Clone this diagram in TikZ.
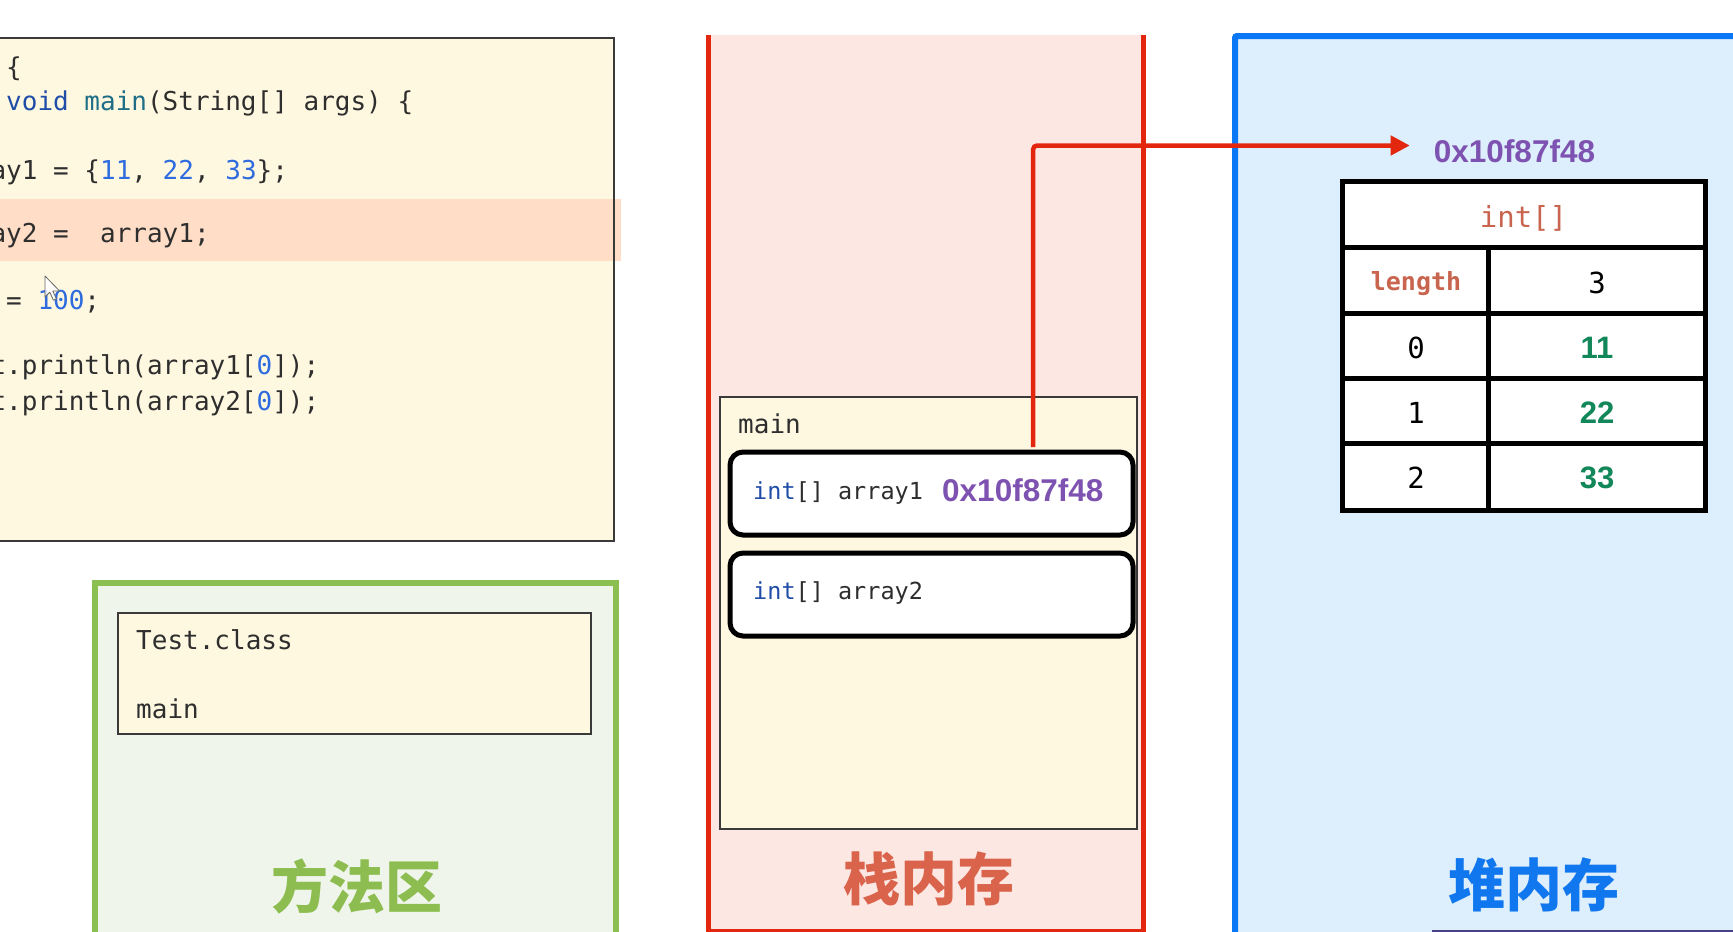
\documentclass[tikz,border=0pt]{standalone}
\usepackage{fontspec}
\usetikzlibrary{arrows.meta,calc}
\newfontfamily\monof{DejaVu Sans Mono}
\newfontfamily\addrf{Liberation Sans}
\newfontfamily\cjkf{Noto Sans CJK SC}
\definecolor{codebg}{HTML}{FFF8E1}
\definecolor{hlband}{HTML}{FFDDC6}
\definecolor{codegray}{HTML}{2E2E2E}
\definecolor{kwblue}{HTML}{1F4DA8}
\definecolor{kwteal}{HTML}{1D6E86}
\definecolor{numblue}{HTML}{2E6BDE}
\definecolor{stackbg}{HTML}{FDE7E3}
\definecolor{stackred}{HTML}{E3260E}
\definecolor{stacktitle}{HTML}{D9634B}
\definecolor{heapbg}{HTML}{DDEEFC}
\definecolor{heapblue}{HTML}{0A78F6}
\definecolor{heaptitle}{HTML}{1177EE}
\definecolor{methbg}{HTML}{EFF5EA}
\definecolor{methgreen}{HTML}{8CBF52}
\definecolor{methtitle}{HTML}{8DBD50}
\definecolor{addrpurple}{HTML}{7E52B0}
\definecolor{typered}{HTML}{C9654F}
\definecolor{valgreen}{HTML}{12875A}
\definecolor{framegray}{HTML}{3A3A3A}
\definecolor{darkline}{HTML}{4A3F8C}
\tikzset{
  codetxt/.style={anchor=mid west, inner sep=0pt, text=codegray, font=\monof\fontsize{26}{30}\selectfont},
  vartxt/.style={anchor=mid west, inner sep=0pt, text=codegray, font=\monof\fontsize{23.5}{28}\selectfont},
  addrtxt/.style={inner sep=0pt, text=addrpurple, font=\addrf\bfseries\fontsize{31.5}{36}\selectfont},
  titletxt/.style={inner sep=0pt, font=\cjkf\bfseries\fontsize{57}{62}\selectfont},
  varbox/.style={draw=black, line width=5pt, rounded corners=13pt, fill=white, minimum width=403pt, minimum height=83pt, inner sep=0pt},
  plainbox/.style={draw=framegray, line width=2pt, fill=codebg, inner sep=0pt},
  celltxt/.style={inner sep=0pt, text=black, font=\monof\fontsize{29}{33}\selectfont},
  valtxt/.style={inner sep=0pt, text=valgreen, font=\addrf\bfseries\fontsize{31}{36}\selectfont},
  redarrow/.style={draw=stackred, line width=4.5pt, rounded corners=4pt, -{Triangle[length=19pt,width=19pt]}},
}
\begin{document}
\begin{tikzpicture}[x=1pt,y=-1pt]
\useasboundingbox (0,0) rectangle (1733,932);
\fill[white] (0,0) rectangle (1733,932);

% ---------- code panel ----------
\fill[codebg] (-10,38) rectangle (614,541);
\fill[hlband] (0,199) rectangle (621,261);
\draw[line width=2.5pt, draw=framegray] (-10,38) rectangle (614,541);
\node[codetxt] (c1) at (6,74) {\{};
\node[codetxt] (c2) at (6,108.5) {\textcolor{kwblue}{void} \textcolor{kwteal}{main}(String[] args) \{};
\node[codetxt] (c3) at (-9.65,177) {ay1 = \{\textcolor{numblue}{11}, \textcolor{numblue}{22}, \textcolor{numblue}{33}\};};
\node[codetxt] (c4) at (-9.65,240) {ay2 =\ \ array1;};
\node[codetxt] (c5) at (6,307.5) {= \textcolor{numblue}{100};};
\node[codetxt] (c6) at (-9.65,372.7) {t.println(array1[\textcolor{numblue}{0}]);};
\node[codetxt] (c7) at (-9.65,408) {t.println(array2[\textcolor{numblue}{0}]);};
% mouse cursor
\draw[fill=white, fill opacity=0.85, draw=gray!80!black, line width=0.8pt, line join=round]
  (45,276) -- ++(0,21) -- ++(4.8,-4.8) -- ++(3.6,8) -- ++(3,-1.3) -- ++(-3.6,-7.9) -- ++(6.8,0) -- cycle;

% ---------- method area ----------
\draw[line width=5.5pt, draw=methgreen, fill=methbg] (95,583) rectangle (616,948);
\node[plainbox, minimum width=473.5pt, minimum height=121pt] (cls) at (354.25,673.5) {};
\node[codetxt] (clsname) at (136,647) {Test.class};
\node[codetxt] (clsmain) at (136,716) {main};
\node[titletxt, text=methtitle] (methtitle) at (357,886) {方法区};

% ---------- stack ----------
\fill[stackbg] (708,35) rectangle (1143,931);
\draw[line width=5pt, draw=stackred] (708,35) -- (708,931) -- (1143,931) -- (1143,35);
\node[plainbox, minimum width=417pt, minimum height=432pt] (frame) at (928.5,613) {};
\node[codetxt] (framename) at (738,431) {main};
\node[varbox] (a1) at (931.5,493.5) {};
\node[varbox] (a2) at (931.5,594.5) {};
\node[vartxt] (a1txt) at (753,497) {\textcolor{kwblue}{int}[] array1};
\node[addrtxt, anchor=west] (a1val) at (942,490) {0x10f87f48};
\node[vartxt] (a2txt) at (753,597) {\textcolor{kwblue}{int}[] array2};
\node[titletxt, text=stacktitle] (stacktitle) at (929,879) {栈内存};

% ---------- heap ----------
\draw[line width=6pt, draw=heapblue, fill=heapbg, rounded corners=2pt] (1235,36) rectangle (1760,945);
\draw[line width=2pt, draw=darkline] (1432,931) -- (1733,931);
\node[addrtxt] (addr) at (1514.5,151) {0x10f87f48};
\draw[line width=5pt, fill=white] (1342,181) rectangle (1705,510);
\draw[line width=5pt] (1342,247) -- (1705,247) (1342,313) -- (1705,313)
  (1342,378) -- (1705,378) (1342,443) -- (1705,443) (1488,247) -- (1488,510);
\node[celltxt, text=typered] (ttype) at (1523.5,218) {int[]};
\node[inner sep=0pt, text=typered, font=\monof\bfseries\fontsize{25}{30}\selectfont] (tlen) at (1416,284) {length};
\node[celltxt] (tlenv) at (1597,283) {3};
\node[celltxt] (ti0) at (1416,348) {0};
\node[celltxt] (ti1) at (1416,413) {1};
\node[celltxt] (ti2) at (1416,478) {2};
\node[valtxt] (tv0) at (1597,348) {11};
\node[valtxt] (tv1) at (1597,413) {22};
\node[valtxt] (tv2) at (1597,478) {33};
\node[titletxt, text=heaptitle] (heaptitle) at (1534,885) {堆内存};

% ---------- reference arrow ----------
\draw[redarrow] ([yshift=2.5pt]$(a1.north west)!0.749!(a1.north east)$) |- ([xshift=-24pt,yshift=5.5pt]addr.west);
\end{tikzpicture}
\end{document}
